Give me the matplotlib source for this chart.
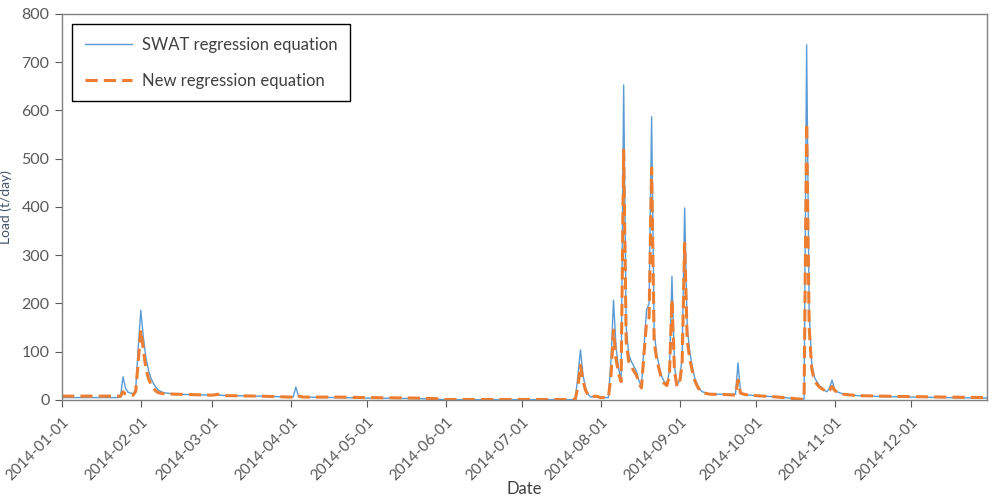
import matplotlib
matplotlib.use("Agg")
import matplotlib.pyplot as plt
import matplotlib.dates as mdates
import matplotlib.transforms as mtransforms
import pandas as pd

plt.rcParams["font.family"] = ["Lato", "DejaVu Sans"]

# daily sediment estimates at the break points
dates = [
    "2014-01-01", "2014-01-23", "2014-01-24", "2014-01-25", "2014-01-26", "2014-01-27",
    "2014-01-29", "2014-01-30", "2014-01-31", "2014-02-01", "2014-02-02", "2014-02-03",
    "2014-02-04", "2014-02-05", "2014-02-06", "2014-02-07", "2014-02-08", "2014-02-10",
    "2014-02-15", "2014-03-01", "2014-03-04", "2014-03-07", "2014-03-20", "2014-04-01",
    "2014-04-02", "2014-04-03", "2014-04-04", "2014-04-06", "2014-04-20", "2014-05-01",
    "2014-05-20", "2014-05-28", "2014-06-01", "2014-07-21", "2014-07-22", "2014-07-23",
    "2014-07-24", "2014-07-25", "2014-07-26", "2014-07-27", "2014-07-28", "2014-07-30",
    "2014-08-01", "2014-08-04", "2014-08-05", "2014-08-06", "2014-08-07", "2014-08-08",
    "2014-08-09", "2014-08-10", "2014-08-11", "2014-08-12", "2014-08-13", "2014-08-14",
    "2014-08-15", "2014-08-16", "2014-08-17", "2014-08-18", "2014-08-19", "2014-08-20",
    "2014-08-21", "2014-08-22", "2014-08-23", "2014-08-24", "2014-08-25", "2014-08-26",
    "2014-08-27", "2014-08-28", "2014-08-29", "2014-08-30", "2014-08-31", "2014-09-01",
    "2014-09-02", "2014-09-03", "2014-09-04", "2014-09-05", "2014-09-06", "2014-09-07",
    "2014-09-08", "2014-09-09", "2014-09-10", "2014-09-13", "2014-09-20", "2014-09-23",
    "2014-09-24", "2014-09-25", "2014-09-27", "2014-10-01", "2014-10-10", "2014-10-18",
    "2014-10-20", "2014-10-21", "2014-10-22", "2014-10-23", "2014-10-24", "2014-10-25",
    "2014-10-26", "2014-10-28", "2014-10-29", "2014-10-30", "2014-10-31", "2014-11-01",
    "2014-11-02", "2014-11-04", "2014-11-10", "2014-11-20", "2014-12-01", "2014-12-15",
    "2014-12-31",
]

swat = [
    5, 5, 6, 48, 24, 16,
    13, 22, 110, 186, 130, 88,
    62, 45, 34, 26, 20, 15,
    12, 10, 10, 9, 8, 6,
    6, 27, 9, 6, 5, 4,
    3, 2, 0.5, 0.5, 2, 50,
    104, 52, 25, 12, 6, 8,
    5, 5, 80, 207, 110, 65,
    41, 653, 150, 95, 80, 70,
    60, 40, 28, 110, 186, 200,
    587, 140, 95, 70, 48, 38,
    33, 60, 256, 70, 31, 40,
    90, 398, 150, 100, 70, 45,
    32, 22, 17, 12, 12, 12,
    77, 15, 11, 9, 6, 2,
    2, 736, 180, 76, 48, 38,
    30, 20, 17, 25, 41, 22,
    17, 13, 9, 7, 6, 5,
    4,
]

new = [
    8, 8, 8, 17, 12, 10,
    10, 18, 80, 145, 105, 65,
    45, 32, 24, 18, 15, 13,
    12, 10, 12, 9, 8, 6,
    6, 10, 8, 6, 6, 5,
    4, 3, 1, 1, 2, 28,
    72, 40, 20, 10, 6, 8,
    5, 5, 50, 145, 85, 55,
    38, 518, 120, 80, 70, 60,
    52, 35, 25, 95, 160, 170,
    481, 120, 85, 62, 42, 34,
    30, 50, 207, 60, 28, 35,
    75, 325, 125, 85, 60, 40,
    28, 20, 15, 12, 11, 10,
    41, 14, 11, 9, 6, 2,
    1, 574, 150, 65, 42, 33,
    27, 20, 16, 20, 28, 20,
    16, 12, 9, 8, 7, 6,
    5,
]

y_ticks = [0, 100, 200, 300, 400, 500, 600, 700, 800]

x = pd.to_datetime(dates)

fig = plt.figure(figsize=(10.02, 4.98), dpi=100)
ax = fig.add_axes([0.0619, 0.1968, 0.9232, 0.7751])

ax.plot(x, swat, color="#5B9BD5", linewidth=1.0, label="SWAT regression equation")
ax.plot(x, new, color="#ED7D31", linewidth=2.2, dashes=(4, 2),
        label="New regression equation")

ax.set_xlim(pd.Timestamp("2014-01-01"), pd.Timestamp("2014-12-31"))
ax.set_ylim(0, 800)
ax.set_yticks(y_ticks)
ax.xaxis.set_major_locator(mdates.MonthLocator())
ax.xaxis.set_major_formatter(mdates.DateFormatter("%Y-%m-%d"))

# the original labels end a little to the right of their ticks
shift = mtransforms.ScaledTranslation(6 / 100, 0, fig.dpi_scale_trans)
for label in ax.get_xticklabels():
    label.set_rotation(45)
    label.set_ha("right")
    label.set_rotation_mode("anchor")
    label.set_transform(label.get_transform() + shift)

ax.tick_params(axis="both", colors="#595959", length=5, direction="out")
ax.tick_params(axis="y", labelsize=11.5, pad=4)
ax.tick_params(axis="x", labelsize=11, pad=6)
for side in ["top", "right", "left", "bottom"]:
    ax.spines[side].set_color("#808080")
    ax.spines[side].set_linewidth(1.0)

ax.set_xlabel("Date", fontsize=12, color="#404040")
ax.xaxis.set_label_coords(0.5, -0.21)
ax.set_ylabel("Load (t/day)", fontsize=10, color="#44546A")
ax.yaxis.set_label_coords(-0.054, 0.5)

leg = ax.legend(loc="upper left", bbox_to_anchor=(0.0108, 0.974), borderaxespad=0,
                fontsize=12, handlelength=2.85, labelspacing=1.2, borderpad=0.75,
                handletextpad=0.6, fancybox=False, framealpha=1, edgecolor="black")
leg.get_frame().set_linewidth(1.0)
for t in leg.get_texts():
    t.set_color("#404040")

fig.savefig("out.png", dpi=100)
